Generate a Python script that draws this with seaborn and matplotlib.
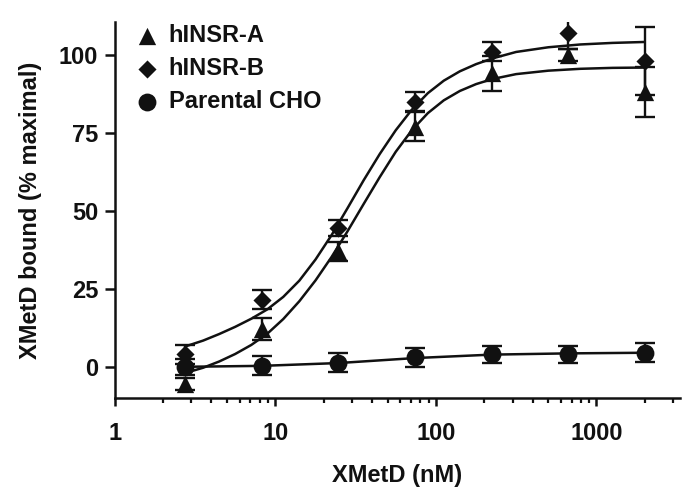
import matplotlib
matplotlib.use("Agg")
import matplotlib.pyplot as plt
import seaborn as sns
from matplotlib.ticker import FixedLocator, FixedFormatter, LogLocator, NullFormatter

# measured points: XMetD dose (nM), % maximal bound, error
dose = [2.74, 8.23, 24.7, 74.1, 222, 667, 2000]
insr_a = [-5.5, 12, 37, 77, 94, 100, 88]
insr_a_err = [2, 3.5, 3, 4.5, 5.5, 2, 8]
insr_b = [4, 21.5, 44.5, 85, 101, 107, 98]
insr_b_err = [3, 3, 2.5, 3, 3, 5, 11]
cho = [0, 0.3, 1.3, 3, 4, 4, 4.5]
cho_err = [2.5, 3, 3, 3, 2.8, 2.8, 3]

# fitted curves
fit_dose = [2.74, 3.55, 4.47, 5.62, 7.08, 8.91, 11.2, 14.1, 17.8, 22.4, 28.2,
            35.5, 44.7, 56.2, 70.8, 89.1, 112, 141, 178, 224, 316, 501, 794,
            1259, 2000]
fit_a = [-2, -0.3, 1.7, 4.1, 7.0, 10.6, 15.3, 21.0, 27.7, 35.2, 43.5,
         52.2, 60.8, 68.9, 75.8, 81.3, 85.4, 88.4, 90.6, 92.2, 93.8, 94.9, 95.5,
         95.8, 95.9]
fit_b = [6.5, 8.4, 10.5, 12.8, 15.4, 18.4, 22.4, 27.6, 34.4, 42.2, 50.9,
         59.8, 68.2, 75.8, 82.4, 87.7, 91.7, 94.7, 97.0, 98.8, 100.9, 102.4, 103.3,
         103.8, 104.1]
fit_cho = [0, 0.3, 1.2, 2.8, 3.9, 4.3, 4.5]

labels = ["hINSR-A", "hINSR-B", "Parental CHO"]
x_ticks = [1, 10, 100, 1000]
y_ticks = [0, 25, 50, 75, 100]

sns.set_style("ticks")
plt.rcParams["font.family"] = ["Liberation Sans", "DejaVu Sans"]
plt.rcParams["font.weight"] = "bold"
plt.rcParams["axes.labelweight"] = "bold"

ink = "#111111"
fig = plt.figure(figsize=(7, 5), dpi=100)
ax = fig.add_axes([0.164, 0.204, 0.807, 0.752])

# fit lines
for ys, xs in [(fit_a, fit_dose), (fit_b, fit_dose), (fit_cho, dose)]:
    sns.lineplot(x=xs, y=ys, ax=ax, color=ink, linewidth=1.8, sort=False)

# error bars
for ys, es in [(insr_a, insr_a_err), (insr_b, insr_b_err), (cho, cho_err)]:
    ax.errorbar(dose, ys, yerr=es, fmt="none", ecolor=ink, elinewidth=1.7,
                capsize=7, capthick=1.7)

# markers
sns.scatterplot(x=dose, y=insr_a, ax=ax, marker="^", s=155, color=ink,
                linewidth=0, label=labels[0], zorder=5)
sns.scatterplot(x=dose, y=insr_b, ax=ax, marker="D", s=85, color=ink,
                linewidth=0, label=labels[1], zorder=5)
sns.scatterplot(x=dose, y=cho, ax=ax, marker="o", s=165, color=ink,
                linewidth=0, label=labels[2], zorder=5)

ax.set_xscale("log")
ax.set_xlim(1, 3300)
ax.set_ylim(-10, 110.5)
ax.xaxis.set_major_locator(FixedLocator(x_ticks))
ax.xaxis.set_major_formatter(FixedFormatter([str(t) for t in x_ticks]))
ax.xaxis.set_minor_locator(LogLocator(base=10, subs=range(2, 10)))
ax.xaxis.set_minor_formatter(NullFormatter())
ax.set_yticks(y_ticks)

for side in ["top", "right"]:
    ax.spines[side].set_visible(False)
for side in ["left", "bottom"]:
    ax.spines[side].set_linewidth(1.8)
    ax.spines[side].set_color(ink)

ax.tick_params(axis="y", which="major", length=7, width=1.8, pad=5,
               labelsize=17, colors=ink)
ax.tick_params(axis="x", which="major", length=6, width=1.8, pad=11,
               labelsize=17, colors=ink)
ax.tick_params(axis="x", which="minor", length=3.5, width=1.6, colors=ink)

ax.set_xlabel("XMetD (nM)", fontsize=17, fontweight="bold", labelpad=14, color=ink)
ax.set_ylabel("XMetD bound (% maximal)", fontsize=17, fontweight="bold",
              labelpad=12, color=ink)

leg = ax.legend(loc="upper left", bbox_to_anchor=(0.016, 1.02), frameon=False,
                fontsize=17, handletextpad=0.3, labelspacing=0.42,
                borderaxespad=0, handlelength=1.2)
for t in leg.get_texts():
    t.set_fontweight("bold")
    t.set_color(ink)

fig.savefig("out.png", dpi=100)
